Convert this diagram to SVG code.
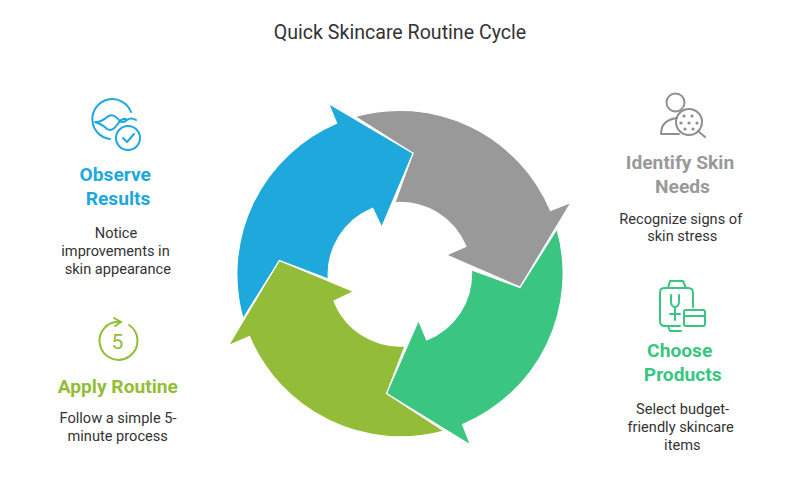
<svg xmlns="http://www.w3.org/2000/svg" width="800" height="482" viewBox="0 0 800 482">
<style>
text{font-family:Roboto,"Liberation Sans",sans-serif;text-anchor:middle}
.t{font-size:19.600px;fill:#333}
.h{font-size:19.200px;font-weight:700}
.d{font-size:14.600px;fill:#333}
.a{stroke:#fff;stroke-width:1.1;stroke-linejoin:miter}
.i{fill:none;stroke-width:2;stroke-linecap:round;stroke-linejoin:round}
</style>
<rect width="800" height="482" fill="#fff"/>
<text class="t" x="400" y="39">Quick Skincare Routine Cycle</text>
<g id="connectors">
<path class="a" fill="#999999" d="M355 116.500A164 164 0 0 1 550.500 210.500L571 202.500L520 287L446.500 255L466 246.500A71 71 0 0 0 395 202.500L413 153.300Z"/>
<path class="a" fill="#3AC581" d="M557 229A164 164 0 0 1 462.500 424.500L470.500 445L386.500 393.500L418.500 320.500L426.700 340A71 71 0 0 0 471.500 270L520 287.500Z"/>
<path class="a" fill="#93BD38" d="M444 431A164 164 0 0 1 249.500 336.500L228.500 345.500L279.300 260.500L353.500 291.500L334 301A71 71 0 0 0 405 346L386.500 393.500Z"/>
<path class="a" fill="#1EA8DC" d="M243 318.500A164 164 0 0 1 336.700 123.300L328.500 103.500L413 153.300L381.700 227.300L372.700 208.300A71 71 0 0 0 328.300 279L279.300 260.500Z"/>
</g>
<g id="identify">
<g class="i" stroke="#8f8f8f"><circle cx="675.500" cy="102.500" r="9"/><path d="M677 118Q661 120 661 134H679"/><circle cx="689" cy="122" r="13"/><path d="M698 131L705 137"/></g>
<g fill="#8f8f8f"><circle cx="684" cy="116" r="1.600"/><circle cx="692" cy="116" r="1.600"/><circle cx="681" cy="123" r="1.600"/><circle cx="689" cy="123" r="1.600"/><circle cx="697" cy="123" r="1.600"/><circle cx="685" cy="129" r="1.600"/><circle cx="693" cy="129" r="1.600"/></g>
<text class="h" x="680" y="169.300" fill="#999999">Identify Skin</text><text class="h" x="682.500" y="192.800" fill="#999999">Needs</text>
<text class="d" x="680.800" y="224">Recognize signs of</text><text class="d" x="682.200" y="241">skin stress</text>
</g>
<g id="choose">
<g class="i" stroke="#3AC581"><path d="M668 288L670 281H683L686 288M664 288H688Q693 288 693 293V307M680 326H665Q660 326 660 321V293Q660 288 664 288M668 326L670 331H681"/><path d="M671 295V301Q671 307 675 307Q679 307 679 301V295M675 307V320M670 314H680"/><rect x="684" y="310" width="21" height="16" rx="2"/><path d="M684 316H705"/></g>
<text class="h" x="679.700" y="357" fill="#3AC581">Choose</text><text class="h" x="682.700" y="381" fill="#3AC581">Products</text>
<text class="d" x="682.500" y="414">Select budget-</text><text class="d" x="680.700" y="432">friendly skincare</text><text class="d" x="682.300" y="449.500">items</text>
</g>
<g id="apply">
<g class="i" stroke="#93BD38"><path d="M121 322A19 19 0 1 0 129 325"/><path d="M114 318L121 322L115 326"/></g>
<text x="117.500" y="349" font-size="21" fill="#93BD38">5</text>
<text class="h" x="117.800" y="393" fill="#93BD38">Apply Routine</text>
<text class="d" x="118" y="423">Follow a simple 5-</text><text class="d" x="117.700" y="441">minute process</text>
</g>
<g id="observe">
<g class="i" stroke="#1EA8DC"><path d="M131 112A20 20 0 1 0 110 139"/><path d="M95 122Q102 122 107 117Q112 113 117 118Q122 125 127 120Q131 117 136 120M95 122Q102 124 107 129Q112 132 117 125Q121 118 126 119"/><circle cx="128" cy="138" r="12"/><path d="M123 138L127 142L134 134"/></g>
<text class="h" x="115.300" y="181" fill="#1EA8DC">Observe</text><text class="h" x="118" y="204.500" fill="#1EA8DC">Results</text>
<text class="d" x="116" y="238">Notice</text><text class="d" x="115.500" y="256">improvements in</text><text class="d" x="117.800" y="273.500">skin appearance</text>
</g>
</svg>
